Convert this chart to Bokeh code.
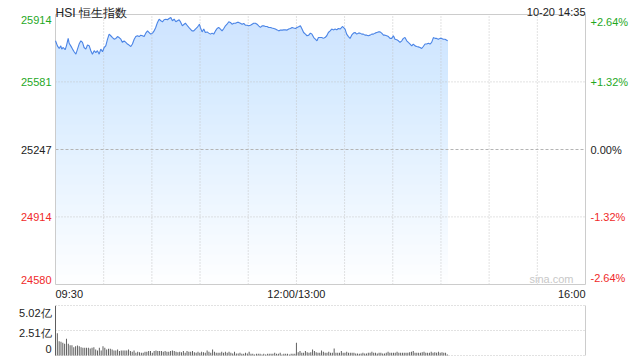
import numpy as np
from bokeh.plotting import figure
from bokeh.models import Range1d, Label
from bokeh.layouts import column
from bokeh.embed import file_html
from bokeh.resources import INLINE

# ---------------- data ----------------
title_text = "HSI 恒生指数"
stamp_text = "10-20 14:35"
watermark = "sina.com"
prev_close = 25247
price_ticks = [24580, 24914, 25247, 25581, 25914]
pct_labels = ["-2.64%", "-1.32%", "0.00%", "+1.32%", "+2.64%"]
session_minutes = 330          # 09:30-12:00 + 13:00-16:00
time_ticks = [0, 150, 330]
time_labels = ["09:30", "12:00/13:00", "16:00"]

# trading minutes since 09:30 (lunch removed)
minutes = [
    0, 1.2, 2.3, 3.3, 3.9, 4.8, 6.0, 6.8, 7.9, 8.5, 9.5, 10.6, 11.6, 12.7, 13.7,
    14.7, 15.8, 16.8, 17.8, 18.9, 19.9, 21.0, 22.0, 23.0, 24.1, 25.1, 26.1, 27.2,
    28.2, 29.3, 30.3, 31.3, 32.4, 33.4, 34.4, 35.5, 36.5, 37.6, 38.6, 39.6, 40.7,
    41.7, 42.7, 43.8, 44.8, 45.8, 46.9, 47.9, 49.0, 50.0, 51.0, 52.1, 53.1, 54.1,
    55.2, 56.2, 57.3, 58.3, 59.3, 60.4, 61.4, 62.4, 63.5, 64.5, 65.6, 66.6, 67.6,
    68.7, 69.7, 70.7, 71.8, 72.8, 73.9, 74.9, 75.9, 77.0, 78.0, 79.0, 80.1,
    80.9, 81.9, 83.0, 84.0, 85.0, 86.1, 87.1, 88.2, 89.2, 89.6, 90.2, 91.3, 92.3,
    93.3, 94.4, 95.4, 96.5, 97.5, 98.5, 99.6, 100.6, 101.6, 102.7, 103.7, 104.8,
    105.8, 106.8, 107.9, 108.9, 109.9, 111.0, 112.0, 113.1, 114.1, 115.1, 116.2,
    117.2, 118.2, 119.3, 120.3, 121.4, 122.4, 123.4, 124.5, 125.5, 126.5, 127.6,
    128.6, 129.7, 130.7, 131.7, 132.8, 133.8, 134.8, 135.9, 136.9, 138.0, 139.0,
    140.0, 141.1, 142.1, 143.1, 144.2, 145.2, 146.3, 147.3, 148.3, 149.4, 150.4,
    151.4, 152.5, 153.5, 154.5, 155.6, 156.6, 157.7, 158.7, 159.7, 160.8, 161.8,
    162.8,
    163.7, 164.7, 165.8, 166.8, 167.8, 168.9, 169.9, 171.0, 172.0, 173.0, 174.1,
    175.1, 176.1, 177.2, 178.2, 178.6, 179.3, 180.3, 181.3, 182.4, 183.4, 184.4,
    185.5, 186.5, 187.6, 188.6, 189.6, 190.7, 191.7, 192.7, 193.8, 194.8, 195.9,
    196.9, 197.9, 199.0, 200.0, 201.0, 202.1, 203.1, 204.2, 205.2, 206.2, 207.3,
    208.3, 209.3, 210.4, 211.4, 212.5, 213.5, 214.5, 215.6, 216.6, 217.6, 218.7,
    219.7, 220.8, 221.8, 222.8, 223.9, 224.9, 225.9, 227.0, 228.0, 229.0, 230.1,
    231.1, 232.2, 233.2, 234.2, 235.3, 236.3, 237.3, 238.4, 239.4, 240.4, 241.5,
    242.5, 243.6, 244.2,
]
prices = [
    25784, 25759, 25746, 25759, 25743, 25751, 25740, 25759, 25796, 25772, 25759,
    25743, 25730, 25718, 25743, 25768, 25784, 25776, 25751, 25743, 25763, 25759,
    25735, 25718, 25735, 25726, 25735, 25718, 25743, 25730, 25751, 25759, 25792,
    25817, 25809, 25800, 25792, 25796, 25805, 25800, 25792, 25776, 25784, 25776,
    25768, 25763, 25756, 25768, 25792, 25805, 25809, 25805, 25812, 25809, 25805,
    25822, 25833, 25825, 25817, 25822, 25833, 25850, 25875, 25891, 25883, 25878,
    25888, 25891, 25888, 25894, 25899, 25883, 25891, 25878, 25883, 25888, 25875,
    25858, 25866,
    25871, 25861, 25850, 25842, 25833, 25833, 25842, 25850, 25861, 25866, 25850,
    25828, 25842, 25825, 25828, 25822, 25817, 25822, 25817, 25833, 25845, 25850,
    25842, 25833, 25845, 25858, 25866, 25878, 25875, 25866, 25871, 25871, 25875,
    25875, 25871, 25866, 25870, 25861, 25861, 25858, 25861, 25866, 25871, 25871,
    25866, 25858, 25850, 25858, 25858, 25855, 25855, 25850, 25850, 25847, 25845,
    25842, 25838, 25833, 25837, 25837, 25838, 25838, 25837, 25842, 25845, 25850,
    25847, 25845, 25850, 25853, 25858, 25842, 25825, 25817, 25809, 25812, 25822,
    25817, 25800, 25792, 25784,
    25800, 25800, 25800, 25796, 25800, 25809, 25825, 25833, 25842, 25838, 25842,
    25838, 25845, 25842, 25850, 25855, 25850, 25842, 25817, 25805, 25796, 25812,
    25822, 25825, 25817, 25822, 25822, 25817, 25817, 25812, 25812, 25809, 25812,
    25817, 25817, 25822, 25825, 25828, 25828, 25822, 25812, 25812, 25809, 25805,
    25796, 25796, 25809, 25792, 25789, 25784, 25776, 25784, 25796, 25800, 25784,
    25776, 25768, 25759, 25768, 25759, 25756, 25754, 25751, 25746, 25756, 25768,
    25768, 25772, 25768, 25776, 25800, 25796, 25796, 25792, 25796, 25796, 25792,
    25792, 25787, 25784,
]

# volume bars (亿), morning and afternoon sessions
vol_am = [
    4.98, 2.24, 1.44, 1.37, 1.27, 1.17, 1.67, 1.17, 1.04, 1.04,
    0.84, 0.94, 1.00, 0.94, 0.84, 0.77, 0.77, 0.77, 0.77, 0.70,
    0.77, 0.84, 0.60, 0.50, 0.77, 0.50, 0.94, 0.77, 0.60, 0.67,
    0.67, 0.60, 0.50, 0.50, 0.60, 0.44, 0.50, 0.50, 0.50, 0.50,
    0.60, 0.44, 0.37, 0.50, 0.27, 0.37, 0.33, 0.27, 0.27, 0.37,
    0.37, 0.44, 0.44, 0.27, 0.44, 0.50, 0.44, 0.44, 0.44, 0.37,
    0.44, 0.37, 0.37, 0.44, 0.50, 0.44, 0.37, 0.33, 0.37, 0.33,
    0.44, 0.27, 0.44, 0.37, 0.37, 0.44, 0.33, 0.27, 0.37, 0.27,
    0.37, 0.33, 0.27, 0.50, 0.37, 0.27, 0.60, 0.37, 0.27, 0.27,
    0.27, 0.37, 0.27, 0.37, 0.27, 0.37, 0.27, 0.20, 0.37, 0.20,
    0.20, 0.27, 0.17, 0.17, 0.27, 0.20, 0.37,
    0.17, 0.17, 0.10, 0.17, 0.17, 0.17, 0.10, 0.17, 0.10, 0.17,
    0.17, 0.17, 0.17, 0.27, 0.17, 0.17, 0.27, 0.10, 0.17, 0.17,
    0.17, 0.10, 0.17, 0.17, 0.17,
]
vol_pm = [
    1.27, 0.33, 0.44, 0.27, 0.27, 0.44, 0.33, 0.27, 0.33, 0.60,
    0.44, 0.33, 0.27, 0.27, 0.50, 0.37, 0.27, 0.27, 0.37, 0.27,
    0.27, 0.70, 0.27, 0.27, 0.27, 0.44, 0.27, 0.27, 0.37, 0.27,
    0.27, 0.27, 0.27, 0.20, 0.20, 0.17, 0.20, 0.27, 0.20, 0.20,
    0.27, 0.27, 0.37, 0.27, 0.27, 0.20, 0.27, 0.27, 0.20, 0.20,
    0.27, 0.37, 0.27, 0.27, 0.27, 0.27, 0.37, 0.27, 0.27, 0.27,
    0.27, 0.27, 0.27, 0.33, 0.37, 0.44, 0.27, 0.27, 0.27, 0.27,
    0.33, 0.37, 0.27, 0.27, 0.27, 0.37, 0.27, 0.33, 0.27, 0.37,
    0.27, 0.33, 0.27, 0.27, 0.10,
]
am_span = (0, 149)
pm_span = (150, 244)
vol_ticks = [0, 2.51, 5.02]
vol_labels = ["0", "2.51亿", "5.02亿"]

# ---------------- style ----------------
FONT = "Liberation Sans"
GREEN = "#1fa81f"
RED = "#f02a2a"
DARK = "#222222"
GRID = "#c4c4c4"
BORDER = "#cccccc"
LINE = "#4a84e6"
FILL = "#a4c4f2"

W = 640
ML, MR = 55, 55           # plot-area margins (px)


def padded_range(lo, hi, px_lo, px_hi, px_len):
    """Range whose [lo, hi] occupies the canvas between the given pixel margins."""
    per_px = (hi - lo) / px_len
    return Range1d(lo - px_lo * per_px, hi + px_hi * per_px)


def make_fig(height, y_lo, y_hi, mt, mb):
    f = figure(width=W, height=height,
               x_range=padded_range(0, session_minutes, ML, MR, W - ML - MR),
               y_range=padded_range(y_lo, y_hi, mb, mt, height - mt - mb),
               x_axis_type=None, y_axis_type=None,
               output_backend="svg", toolbar_location=None,
               min_border=0, outline_line_color=None,
               background_fill_color="white", border_fill_color="white")
    f.xgrid.visible = False
    f.ygrid.visible = False
    return f


# ---------------- price chart ----------------
P_TOP, P_BOT = 14, 16
y_lo, y_hi = price_ticks[0], price_ticks[-1]
p = make_fig(300, y_lo, y_hi, P_TOP, P_BOT)

# gradient fill under the line (stacked translucent layers)
x_arr = np.array(minutes)
y_arr = np.array(prices, dtype=float)
levels = np.linspace(y_lo, y_hi, 28)[:-1]
for lv in levels:
    p.varea(x=x_arr, y1=lv, y2=np.maximum(y_arr, lv), fill_color=FILL,
            fill_alpha=0.022)

# grid lines
vgrid = np.arange(30, session_minutes, 30)
p.segment(x0=vgrid, y0=y_lo, x1=vgrid, y1=y_hi, line_color=GRID, line_dash="1 2",
          line_width=1)
hgrid = [t for t in price_ticks[1:-1] if t != prev_close]
p.segment(x0=0, y0=hgrid, x1=session_minutes, y1=hgrid, line_color=GRID,
          line_dash="1 2", line_width=1)
p.segment(x0=0, y0=prev_close, x1=session_minutes, y1=prev_close,
          line_color="#b4b4b4", line_dash="3 2", line_width=1)

# frame
p.quad(left=0, right=session_minutes, bottom=y_lo, top=y_hi, fill_color=None,
       line_color=BORDER, line_width=1)

p.line(x_arr, y_arr, line_color=LINE, line_width=1.1)

# y tick labels (left: index level, right: percentage)
for t, pct in zip(price_ticks, pct_labels):
    col = GREEN if t > prev_close else (RED if t < prev_close else DARK)
    if t == y_hi:
        base, off = "top", -1
    elif t == y_lo:
        base, off = "bottom", 1
    else:
        base, off = "middle", 0
    p.add_layout(Label(x=0, y=t, x_offset=-4, y_offset=off, text=str(t),
                       text_align="right", text_baseline=base,
                       text_font=FONT, text_font_size="11px", text_color=col))
    p.add_layout(Label(x=session_minutes, y=t, x_offset=5, y_offset=off, text=pct,
                       text_align="left", text_baseline=base,
                       text_font=FONT, text_font_size="11px", text_color=col))

# time labels
for t, lab in zip(time_ticks, time_labels):
    align = "left" if t == 0 else ("right" if t == session_minutes else "center")
    p.add_layout(Label(x=t, y=y_lo, y_offset=-3, text=lab,
                       text_align=align, text_baseline="top",
                       text_font=FONT, text_font_size="11px", text_color=DARK))

# title, timestamp, watermark
p.add_layout(Label(x=0, y=y_hi, y_offset=2, text=title_text,
                   text_align="left", text_baseline="alphabetic",
                   text_font=FONT, text_font_size="12px", text_color=DARK))
p.add_layout(Label(x=session_minutes, y=y_hi, y_offset=3, text=stamp_text,
                   text_align="right", text_baseline="alphabetic",
                   text_font=FONT, text_font_size="11px", text_color=DARK))
p.add_layout(Label(x=session_minutes, y=y_lo, x_offset=-12, y_offset=0,
                   text=watermark, text_align="right", text_baseline="bottom",
                   text_font=FONT, text_font_size="11px", text_color="#c8c8c8"))

# ---------------- volume chart ----------------
pv = make_fig(60, vol_ticks[0], vol_ticks[-1], 5, 5)

pv.segment(x0=0, y0=vol_ticks, x1=session_minutes, y1=vol_ticks, line_color=GRID,
           line_dash="1 2", line_width=1)
pv.segment(x0=[0, session_minutes], y0=vol_ticks[0], x1=[0, session_minutes],
           y1=vol_ticks[-1], line_color=BORDER, line_width=1)

vx = np.concatenate([np.linspace(am_span[0], am_span[1], len(vol_am)),
                     np.linspace(pm_span[0], pm_span[1], len(vol_pm))])
vy = np.array(vol_am + vol_pm)
pv.vbar(x=vx, top=vy, bottom=0, width=0.6, fill_color="#5a5a5a", line_color=None)

for t, lab in zip(vol_ticks, vol_labels):
    if t == vol_ticks[-1]:
        base, off = "top", -1
    elif t == vol_ticks[0]:
        base, off = "bottom", 3
    else:
        base, off = "middle", -2
    pv.add_layout(Label(x=0, y=t, x_offset=-4, y_offset=off, text=lab,
                        text_align="right", text_baseline=base,
                        text_font=FONT, text_font_size="11px", text_color=DARK))

layout = column(p, pv, spacing=0)
open("out.html", "w").write(file_html(layout, INLINE))
